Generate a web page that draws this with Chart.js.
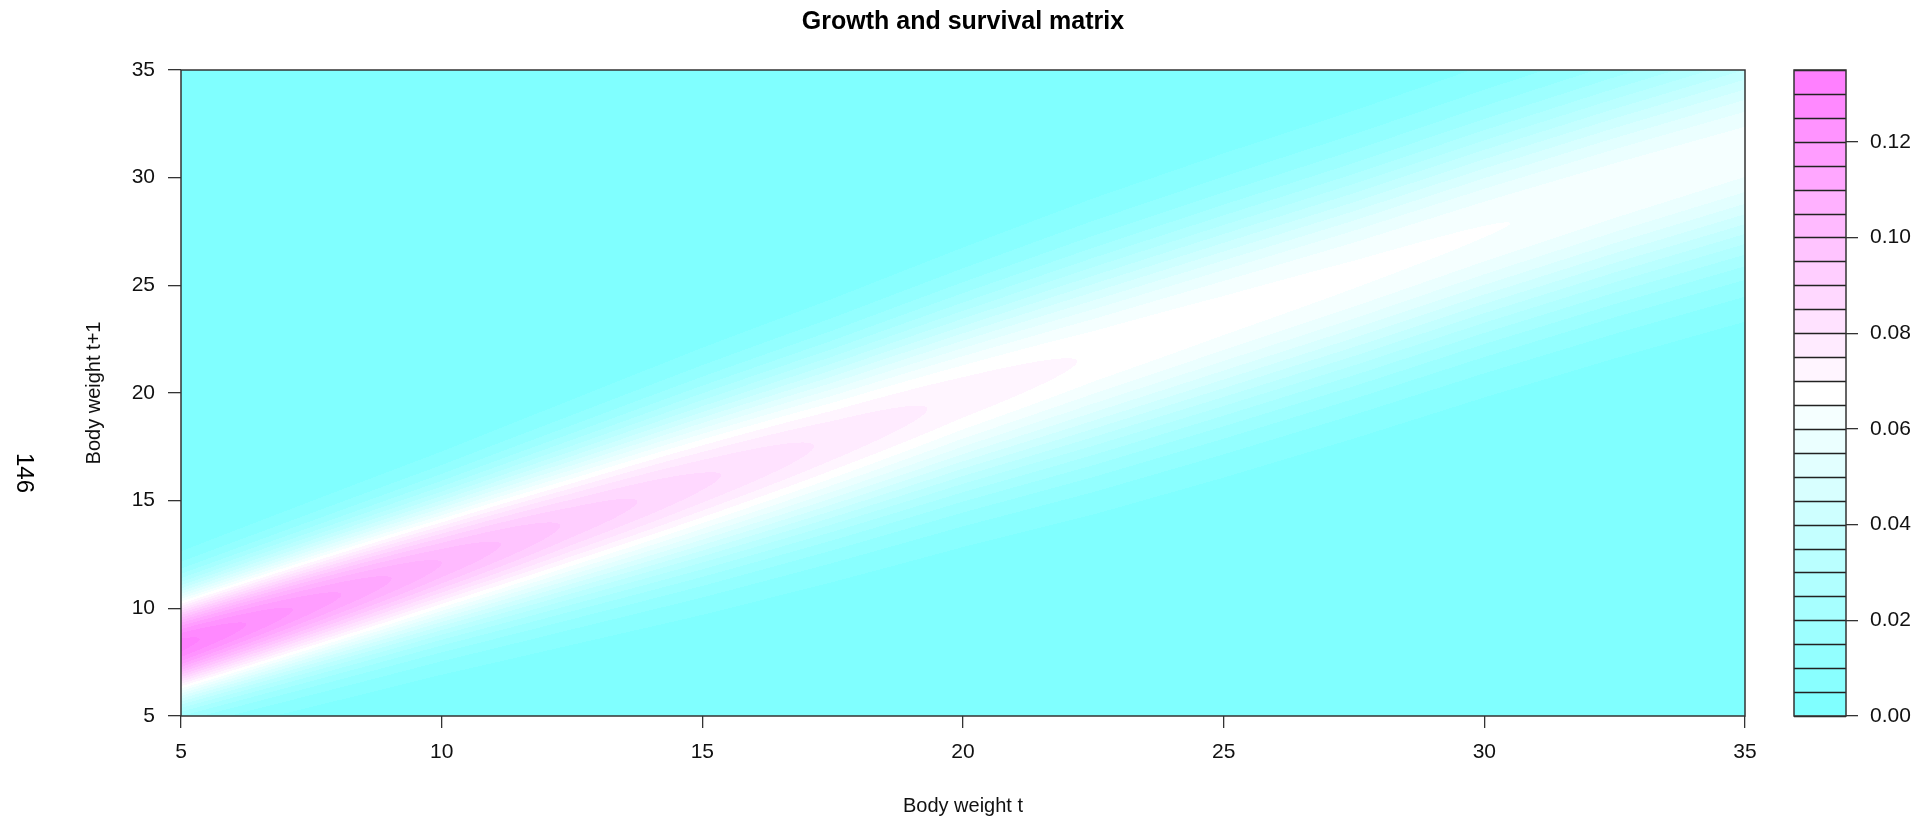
<!DOCTYPE html>
<html>
<head>
<meta charset="utf-8">
<title>Growth and survival matrix</title>
<script src="https://cdn.jsdelivr.net/npm/chart.js@4.4.1/dist/chart.umd.min.js"></script>
<style>
  html, body { margin: 0; padding: 0; background: #fff; }
  #wrap { position: relative; width: 1932px; height: 821px; }
  #wrap canvas { position: absolute; left: 0; top: 0; }
</style>
</head>
<body>
<div id="wrap">
  <canvas id="kernel" width="1932" height="821"></canvas>
  <canvas id="key" width="1932" height="821"></canvas>
</div>
<script>
// body weight at t where the ridge of the kernel is described
const weightT = [5, 7.5, 10, 12.5, 15, 17.5, 20, 22.5, 25, 27.5, 30, 32.5, 35];
// centre of the ridge (body weight at t+1)
const ridgeMean = [8.3, 10.2, 12.1, 14.0, 15.9, 17.8, 19.8, 21.7, 23.6, 25.5, 27.5, 29.4, 31.2];
// spread of the ridge around its centre
const ridgeSd = [1.7, 1.9, 2.1, 2.35, 2.6, 2.8, 3.0, 3.2, 3.3, 3.35, 3.4, 3.45, 3.5];
// kernel value on the ridge
const ridgePeak = [0.132, 0.118, 0.105, 0.094, 0.086, 0.079, 0.0735, 0.0695, 0.0675, 0.0662, 0.0652, 0.0642, 0.0634];

const contourLevels = [0, 0.005, 0.01, 0.015, 0.02, 0.025, 0.03, 0.035, 0.04, 0.045, 0.05, 0.055, 0.06,
  0.065, 0.07, 0.075, 0.08, 0.085, 0.09, 0.095, 0.1, 0.105, 0.11, 0.115, 0.12, 0.125, 0.13, 0.135];
const axisTicks = [5, 10, 15, 20, 25, 30, 35];
const keyTicks = [0, 0.02, 0.04, 0.06, 0.08, 0.1, 0.12];

const FONT = "'Liberation Sans', Arial, Helvetica, sans-serif";
const INK = '#333';

// R's cm.colors(): cyan -> white -> magenta
function cmColors(n) {
  const k = Math.floor(n / 2), even = n % 2 === 0;
  const l1 = k + 1 - (even ? 1 : 0), l2 = n - k + (even ? 1 : 0);
  const sEnd = even ? 0.5 / k : 0;
  const cols = [];
  for (let i = 0; i < l1; i++) {
    const s = l1 === 1 ? 0.5 : 0.5 + (sEnd - 0.5) * i / (l1 - 1);
    cols.push([Math.round(255 * (1 - s)), 255, 255]);
  }
  for (let i = 1; i < l2; i++) {
    const s = 0.5 * i / (l2 - 1);
    cols.push([255, Math.round(255 * (1 - s)), 255]);
  }
  return cols;
}
const nBands = contourLevels.length - 1;
const bandRgb = cmColors(nBands);
const bandColors = bandRgb.map(c => `rgb(${c[0]},${c[1]},${c[2]})`);

function interp(arr, xv) {
  const last = weightT.length - 1;
  if (xv <= weightT[0]) return arr[0];
  if (xv >= weightT[last]) return arr[last];
  let i = 0;
  while (weightT[i + 1] < xv) i++;
  const t = (xv - weightT[i]) / (weightT[i + 1] - weightT[i]);
  return arr[i] + (arr[i + 1] - arr[i]) * t;
}

function bandOf(v) {
  let b = 0;
  while (b < nBands - 1 && v >= contourLevels[b + 1]) b++;
  return b;
}

// filled contours of the kernel, pixel by pixel through the scales
const heatmap = {
  id: 'heatmap',
  beforeDatasetsDraw(chart) {
    const { ctx, chartArea: a, scales: { x, y } } = chart;
    const left = Math.round(a.left), top = Math.round(a.top);
    const w = Math.round(a.right) - left, h = Math.round(a.bottom) - top;
    const img = ctx.createImageData(w, h);
    const cols = [];
    for (let i = 0; i < w; i++) {
      const xv = x.getValueForPixel(left + i + 0.5);
      cols.push({ m: interp(ridgeMean, xv), s: interp(ridgeSd, xv), p: interp(ridgePeak, xv) });
    }
    for (let j = 0; j < h; j++) {
      const yv = y.getValueForPixel(top + j + 0.5);
      for (let i = 0; i < w; i++) {
        const c = cols[i];
        const z = (yv - c.m) / c.s;
        const v = c.p * Math.exp(-0.5 * z * z);
        const rgb = bandRgb[bandOf(v)];
        const o = (j * w + i) * 4;
        img.data[o] = rgb[0]; img.data[o + 1] = rgb[1]; img.data[o + 2] = rgb[2]; img.data[o + 3] = 255;
      }
    }
    ctx.putImageData(img, left, top);
  }
};

const frame = {
  id: 'frame',
  afterDraw(chart) {
    const { ctx, chartArea: a } = chart;
    ctx.save();
    ctx.strokeStyle = INK;
    ctx.lineWidth = 1.5;
    ctx.strokeRect(a.left, a.top, a.right - a.left, a.bottom - a.top);

    ctx.fillStyle = '#000';
    ctx.textAlign = 'center';
    ctx.textBaseline = 'alphabetic';
    ctx.font = `bold 25px ${FONT}`;
    ctx.fillText('Growth and survival matrix', (a.left + a.right) / 2, 29);

    ctx.fillStyle = '#111';
    ctx.font = `20px ${FONT}`;
    ctx.fillText('Body weight t', (a.left + a.right) / 2, 812);

    ctx.save();
    ctx.translate(100, (a.top + a.bottom) / 2);
    ctx.rotate(-Math.PI / 2);
    ctx.fillText('Body weight t+1', 0, 0);
    ctx.restore();

    ctx.save();
    ctx.translate(24, 473);
    ctx.rotate(Math.PI / 2);
    ctx.textBaseline = 'middle';
    ctx.font = `24px ${FONT}`;
    ctx.fillStyle = '#000';
    ctx.fillText('146', 0, 0);
    ctx.restore();
    ctx.restore();
  }
};

function axisOpts(tickValues, fit) {
  return {
    type: 'linear',
    min: tickValues[0],
    max: tickValues[tickValues.length - 1],
    afterBuildTicks: s => { s.ticks = tickValues.map(v => ({ value: v })); },
    afterFit: fit,
    border: { display: false },
    grid: { drawOnChartArea: false, tickLength: 12, color: INK, lineWidth: 1.3 },
    ticks: { autoSkip: false, maxRotation: 0, padding: 12, color: '#111', font: { family: FONT, size: 21 } }
  };
}

const xAxis = axisOpts(axisTicks, s => { s.height = 105; });
const yAxis = axisOpts(axisTicks, s => { s.width = 181; });
yAxis.grid.tickLength = 13;
yAxis.ticks.padding = 13;

new Chart(document.getElementById('kernel'), {
  type: 'scatter',
  data: { datasets: [] },
  options: {
    responsive: false,
    animation: false,
    events: [],
    layout: { padding: { left: 0, top: 70, right: 187, bottom: 0 } },
    plugins: { legend: { display: false }, tooltip: { enabled: false } },
    scales: { x: xAxis, y: yAxis }
  },
  plugins: [heatmap, frame]
});

// colour key: one stacked box per contour band
const bandHeights = contourLevels.slice(1).map((v, i) => v - contourLevels[i]);

const keyFrame = {
  id: 'keyFrame',
  afterDatasetsDraw(chart) {
    const { ctx, chartArea: a, scales: { y } } = chart;
    ctx.save();
    ctx.strokeStyle = '#222';
    ctx.lineWidth = 1.3;
    contourLevels.forEach(v => {
      const py = Math.round(y.getPixelForValue(v)) + 0.5;
      ctx.beginPath();
      ctx.moveTo(a.left, py);
      ctx.lineTo(a.right, py);
      ctx.stroke();
    });
    ctx.strokeStyle = INK;
    ctx.lineWidth = 1.5;
    ctx.strokeRect(a.left, a.top, a.right - a.left, a.bottom - a.top);
    ctx.restore();
  }
};

const keyAxis = axisOpts(keyTicks, s => { s.width = 86; });
keyAxis.position = 'right';
keyAxis.stacked = true;
keyAxis.max = contourLevels[contourLevels.length - 1];
keyAxis.ticks.callback = v => Number(v).toFixed(2);

new Chart(document.getElementById('key'), {
  type: 'bar',
  data: {
    labels: [''],
    datasets: bandHeights.map((hgt, i) => ({
      data: [hgt],
      backgroundColor: bandColors[i],
      borderWidth: 0,
      barPercentage: 1,
      categoryPercentage: 1
    }))
  },
  options: {
    responsive: false,
    animation: false,
    events: [],
    layout: { padding: { left: 1794, top: 70, right: 0, bottom: 105 } },
    plugins: { legend: { display: false }, tooltip: { enabled: false } },
    scales: {
      x: { display: false, stacked: true },
      y: keyAxis
    }
  },
  plugins: [keyFrame]
});
</script>
</body>
</html>
